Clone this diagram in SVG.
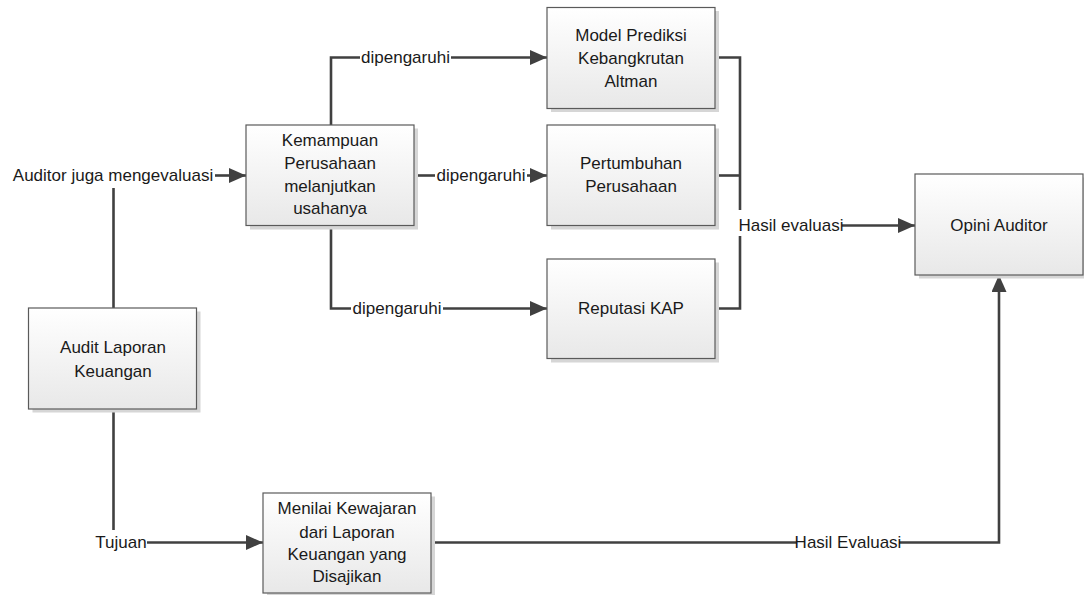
<svg xmlns="http://www.w3.org/2000/svg" width="1084" height="595" viewBox="0 0 1084 595">
<defs>
<linearGradient id="g" x1="0" y1="0" x2="0" y2="1">
<stop offset="0" stop-color="#ffffff"/>
<stop offset="1" stop-color="#e8e8e8"/>
</linearGradient>
<marker id="ah" markerUnits="userSpaceOnUse" markerWidth="18" markerHeight="16" refX="17" refY="7.5" orient="auto">
<path d="M0,0 L17,7.5 L0,15 z" fill="#404040"/>
</marker>
<style>
.sh{fill:#d6d6d6;}
.bx{fill:url(#g);stroke:#5a5a5a;stroke-width:1.2;}
.t{font-family:"Liberation Sans",Arial,sans-serif;font-size:17px;fill:#1a1a1a;text-anchor:middle;}
.c{fill:none;stroke:#404040;stroke-width:2.6;}
.a{marker-end:url(#ah);}
</style>
</defs>
<rect width="1084" height="595" fill="#ffffff"/>
<g id="connectors">
<path class="c" d="M113.5,308 V188"/>
<path class="c a" d="M215,175.5 H246"/>
<path class="c" d="M331,125 V57.5 H360"/>
<path class="c a" d="M451,57.5 H547"/>
<path class="c" d="M414,175.5 H435"/>
<path class="c a" d="M527,175.5 H547"/>
<path class="c" d="M331,225 V308.5 H351"/>
<path class="c a" d="M443,308.5 H547"/>
<path class="c" d="M715,57.5 H740 V210"/>
<path class="c" d="M715,175.5 H740"/>
<path class="c" d="M715,308.5 H740 V236"/>
<path class="c a" d="M842,225.5 H915"/>
<path class="c" d="M113.5,409 V530"/>
<path class="c a" d="M147,542.5 H263"/>
<path class="c" d="M431,542.5 H797"/>
<path class="c a" d="M899,542.5 H999 V275"/>
<text class="t" x="113" y="181">Auditor juga mengevaluasi</text>
<text class="t" x="405.5" y="63">dipengaruhi</text>
<text class="t" x="481" y="181">dipengaruhi</text>
<text class="t" x="397" y="314">dipengaruhi</text>
<text class="t" x="791" y="231">Hasil evaluasi</text>
<text class="t" x="121" y="548">Tujuan</text>
<text class="t" x="848" y="548">Hasil Evaluasi</text>
</g>
<g id="model">
<rect class="sh" x="551" y="11" width="168" height="101"/>
<rect class="bx" x="547" y="7.5" width="168" height="101"/>
<text class="t" x="631" y="41">Model Prediksi</text>
<text class="t" x="631" y="63.5">Kebangkrutan</text>
<text class="t" x="631" y="86.5">Altman</text>
</g>
<g id="pertumbuhan">
<rect class="sh" x="551" y="128.5" width="168" height="101"/>
<rect class="bx" x="547" y="125" width="168" height="100.5"/>
<text class="t" x="631" y="169">Pertumbuhan</text>
<text class="t" x="631" y="192">Perusahaan</text>
</g>
<g id="reputasi">
<rect class="sh" x="551" y="262.5" width="168" height="100"/>
<rect class="bx" x="547" y="259" width="168" height="99.5"/>
<text class="t" x="631" y="314">Reputasi KAP</text>
</g>
<g id="kemampuan">
<rect class="sh" x="250" y="128.5" width="168" height="101"/>
<rect class="bx" x="246" y="125" width="168" height="100.5"/>
<text class="t" x="330" y="146">Kemampuan</text>
<text class="t" x="330" y="169">Perusahaan</text>
<text class="t" x="330" y="192">melanjutkan</text>
<text class="t" x="330" y="214">usahanya</text>
</g>
<g id="opini">
<rect class="sh" x="919" y="177.5" width="168" height="101"/>
<rect class="bx" x="915" y="174" width="168" height="101"/>
<text class="t" x="999" y="231">Opini Auditor</text>
</g>
<g id="audit">
<rect class="sh" x="32.5" y="311.5" width="168" height="101"/>
<rect class="bx" x="28.5" y="308" width="168" height="101"/>
<text class="t" x="113" y="353">Audit Laporan</text>
<text class="t" x="113" y="377">Keuangan</text>
</g>
<g id="menilai">
<rect class="sh" x="267" y="496.5" width="168" height="100"/>
<rect class="bx" x="263" y="493" width="168" height="100"/>
<text class="t" x="347" y="514">Menilai Kewajaran</text>
<text class="t" x="347" y="538">dari Laporan</text>
<text class="t" x="347" y="560">Keuangan yang</text>
<text class="t" x="347" y="582">Disajikan</text>
</g>
</svg>
